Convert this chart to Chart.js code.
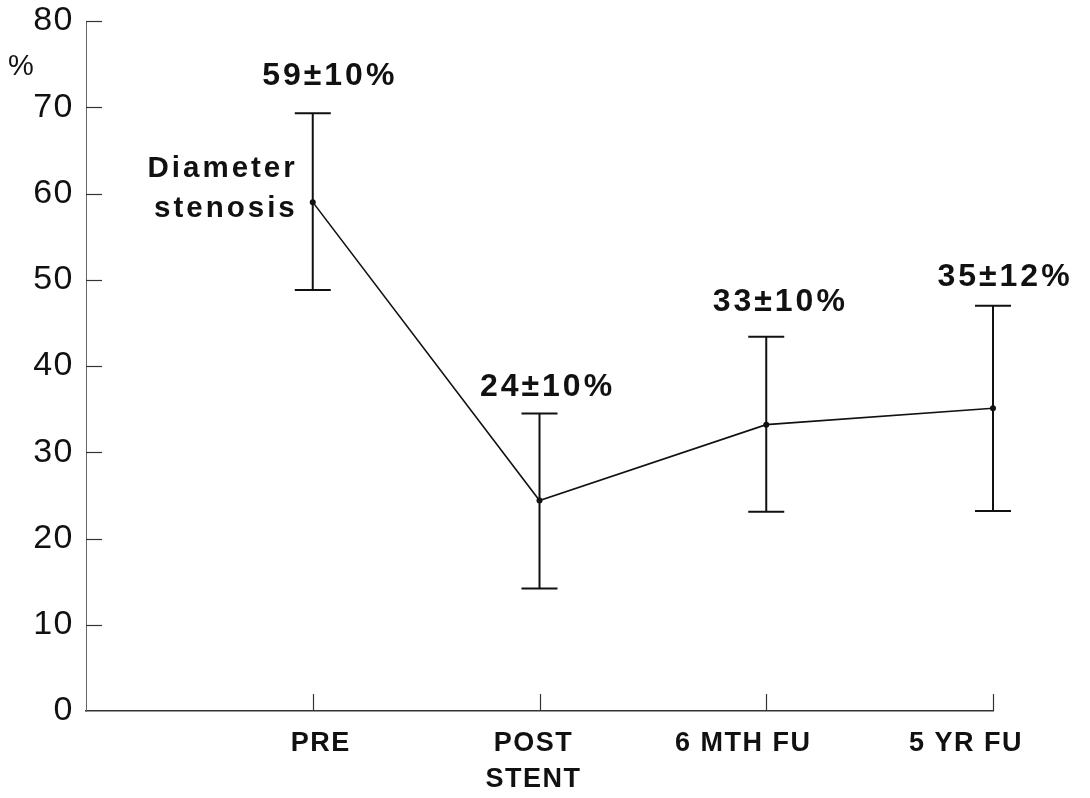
<!DOCTYPE html>
<html lang="en">
<head>
  <meta charset="UTF-8" />
  <title>Diameter stenosis</title>
  <script src="https://cdn.jsdelivr.net/npm/chart.js"></script>
  <style>
    html, body { margin: 0; padding: 0; background: #fff; }
    #wrap { width: 1090px; height: 798px; }
  </style>
</head>
<body>
  <div id="wrap"><canvas id="chart"></canvas></div>

  <script>
    // data
    const categories = ["PRE", ["POST", "STENT"], "6 MTH FU", "5 YR FU"];
    const positions = [1, 2, 3, 4];
    const meanStenosis = [59.0, 24.4, 33.2, 35.1];
    const upperBar = [69.3, 34.5, 43.4, 47.0];
    const lowerBar = [48.8, 14.2, 23.1, 23.2];
    const barLabels = ["59\u00b110%", "24\u00b110%", "33\u00b110%", "35\u00b112%"];
    const seriesLabel = ["Diameter", "stenosis"];
    const yUnit = "%";

    const FONT = "'Liberation Sans', Arial, Helvetica, sans-serif";
    const INK = "#111";
    // value label offsets from the top of each error bar (px)
    const labelShift = [[17, -37], [8, -26], [14, -35], [12, -28]];
    // category labels sit a little off their tick marks (axis units)
    const catNudge = [0.035, -0.026, -0.101, -0.119];

    const overlay = {
      id: "overlay",
      beforeDraw(chart) {
        chart.ctx.letterSpacing = "1.5px";
      },
      afterDatasetsDraw(chart) {
        const { ctx, scales: { x, y } } = chart;
        ctx.save();
        ctx.strokeStyle = INK;
        ctx.lineWidth = 2;
        positions.forEach((v, i) => {
          const px = x.getPixelForValue(v);
          const top = y.getPixelForValue(upperBar[i]);
          const bot = y.getPixelForValue(lowerBar[i]);
          ctx.beginPath();
          ctx.moveTo(px, top); ctx.lineTo(px, bot);
          ctx.moveTo(px - 18, top); ctx.lineTo(px + 18, top);
          ctx.moveTo(px - 18, bot); ctx.lineTo(px + 18, bot);
          ctx.stroke();
        });
        ctx.restore();
      },
      afterDraw(chart) {
        const { ctx, chartArea: a, scales: { x, y } } = chart;
        ctx.save();
        ctx.strokeStyle = "#333";
        ctx.lineWidth = 1.2;
        // inward tick marks
        y.ticks.forEach(t => {
          if (t.value === 0) return;
          const py = Math.round(y.getPixelForValue(t.value)) + 0.5;
          ctx.beginPath();
          ctx.moveTo(a.left, py); ctx.lineTo(a.left + 16, py);
          ctx.stroke();
        });
        positions.forEach(v => {
          const px = Math.round(x.getPixelForValue(v)) + 0.5;
          ctx.beginPath();
          ctx.moveTo(px, a.bottom); ctx.lineTo(px, a.bottom - 17);
          ctx.stroke();
        });

        ctx.fillStyle = INK;
        ctx.textBaseline = "middle";
        ctx.letterSpacing = "3px";

        // value labels above the bars
        ctx.textAlign = "center";
        ctx.font = "bold 32px " + FONT;
        barLabels.forEach((txt, i) => {
          const px = x.getPixelForValue(positions[i]) + labelShift[i][0];
          const py = y.getPixelForValue(upperBar[i]) + labelShift[i][1];
          ctx.fillText(txt, px, py);
        });

        // series label left of the first point
        ctx.textAlign = "right";
        ctx.font = "bold 29.5px " + FONT;
        const sx = x.getPixelForValue(positions[0]) - 15;
        const sy = y.getPixelForValue(meanStenosis[0]);
        ctx.fillText(seriesLabel[0], sx, sy - 33);
        ctx.fillText(seriesLabel[1], sx, sy + 7);

        // unit
        ctx.textAlign = "left";
        ctx.font = "29px " + FONT;
        ctx.fillText(yUnit, a.left - 78, a.top + 46);
        ctx.restore();
      }
    };

    new Chart(document.getElementById("chart"), {
      type: "line",
      data: {
        datasets: [{
          data: positions.map((v, i) => ({ x: v, y: meanStenosis[i] })),
          borderColor: INK,
          borderWidth: 1.6,
          pointRadius: 3,
          pointBackgroundColor: INK,
          pointBorderWidth: 0,
          tension: 0,
          clip: false
        }]
      },
      options: {
        responsive: true,
        maintainAspectRatio: false,
        animation: false,
        devicePixelRatio: 1,
        layout: { padding: { top: 21, right: 97, left: 0, bottom: 0 } },
        plugins: { legend: { display: false }, tooltip: { enabled: false } },
        scales: {
          x: {
            type: "linear",
            min: 0,
            max: 4,
            afterBuildTicks: s => { s.ticks = positions.map((v, i) => ({ value: v + catNudge[i] })); },
            afterFit: s => { s.height = 87; },
            ticks: {
              callback: (v, i) => categories[i],
              font: { family: FONT, size: 27, weight: "bold", lineHeight: 1.32 },
              color: INK,
              padding: 15,
              maxRotation: 0,
              autoSkip: false
            },
            grid: { display: false, drawTicks: false },
            border: { display: true, color: "#333", width: 1.5 }
          },
          y: {
            min: 0,
            max: 80,
            afterFit: s => { s.width = 86; s.paddingTop = 0; s.paddingBottom = 0; },
            ticks: {
              stepSize: 10,
              font: { family: FONT, size: 34 },
              color: INK,
              padding: 12
            },
            grid: { display: false, drawTicks: false },
            border: { display: true, color: "#666", width: 1 }
          }
        }
      },
      plugins: [overlay]
    });
  </script>
</body>
</html>
